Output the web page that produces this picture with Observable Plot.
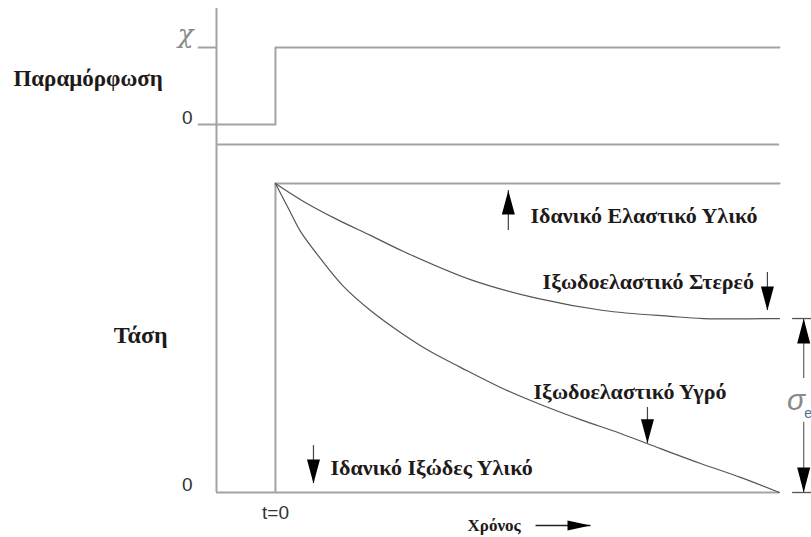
<!DOCTYPE html>
<html><head><meta charset="utf-8">
<script src="https://cdn.jsdelivr.net/npm/d3@7"></script>
<script src="https://cdn.jsdelivr.net/npm/@observablehq/plot@0.6"></script>
<style>body{margin:0;background:#fff;} #chart svg{display:block;background:#fff;}</style>
</head><body><div id="chart"></div>
<script>
// ---- data (time t in arbitrary units, strain / stress normalised) ----
const tAxis = -1.17, tEnd = 10;
const strainT = [tAxis, 0, 0, tEnd];
const strainV = [0, 0, 1, 1];
const strainTicks = [0, 1];
const strainTickLabels = ["0", "χ"];

const elasticT = [0, 10];
const elasticS = [1, 1];

const solidT = [0, 0.556, 1.230, 1.885, 2.540, 3.869, 5.198, 6.508, 7.837, 8.492, 10];
const solidS = [1, 0.942, 0.883, 0.832, 0.780, 0.689, 0.628, 0.589, 0.570, 0.563, 0.563];

const fluidT = [0, 0.258, 0.496, 0.893, 1.349, 1.885, 2.480, 3.075, 3.671, 4.464, 5.258, 6.052, 6.845, 7.639, 8.433, 9.226, 10];
const fluidS = [1, 0.919, 0.845, 0.757, 0.667, 0.589, 0.518, 0.456, 0.405, 0.340, 0.285, 0.236, 0.191, 0.142, 0.094, 0.049, 0];

const sigmaE = 0.563;

const labelNames = ["Ιδανικό Ελαστικό Υλικό", "Ιξωδοελαστικό Στερεό", "Ιξωδοελαστικό Υγρό", "Ιδανικό Ιξώδες Υλικό"];
const labelT = [5.06, 5.30, 5.12, 1.09];
const labelS = [0.896, 0.680, 0.324, 0.078];

const arrowT    = [4.62, 9.76, 7.38, 0.754];
const arrowFrom = [0.848, 0.712, 0.275, 0.152];
const arrowTo   = [0.977, 0.589, 0.159, 0.029];

const bracketT = 10.48;
const bracketFrom = [0.369, 0.227];
const bracketTo = [sigmaE, 0];

// ---- tables built from the arrays ----
const strain = strainT.map((t, i) => ({t, v: strainV[i]}));
const elastic = elasticT.map((t, i) => ({t, s: elasticS[i]}));
const solid = solidT.map((t, i) => ({t, s: solidS[i]}));
const fluid = fluidT.map((t, i) => ({t, s: fluidS[i]}));
const labels = labelNames.map((name, i) => ({name, t: labelT[i], s: labelS[i]}));
const arrows = arrowT.map((t, i) => ({t, from: arrowFrom[i], to: arrowTo[i]}));
const bracket = bracketFrom.map((f, i) => ({t: bracketT, from: f, to: bracketTo[i]}));
const strainTickRows = strainTicks.map((v, i) => ({v, label: strainTickLabels[i]}));

const gray = "#a3a3a3";
const curveColor = "#555";
const serif = "Liberation Serif, Times New Roman, serif";
const sans = "Liberation Sans, Arial, sans-serif";
const head = (w) => ({draw(c, l) { c.moveTo(0, -l); c.lineTo(-w / 2, 0); c.lineTo(w / 2, 0); c.closePath(); }});
const dir = d => d.to > d.from ? 0 : 180;

const W = 811;
const xOpt = {domain: [tAxis, tEnd], axis: null};

const strainChart = Plot.plot({
  width: W, height: 150, marginLeft: 216, marginRight: 32, marginTop: 47, marginBottom: 26,
  x: xOpt, y: {domain: [0, 1], axis: null},
  marks: [
    Plot.ruleX([tAxis], {y1: -0.34, y2: 1.506, stroke: gray, strokeWidth: 2}),
    Plot.ruleY(strainTicks, {x1: tAxis - 0.36, x2: tAxis, stroke: gray, strokeWidth: 2}),
    Plot.ruleY([-0.26], {x1: tAxis, x2: tEnd, stroke: gray, strokeWidth: 2}),
    Plot.line(strain, {x: "t", y: "v", stroke: gray, strokeWidth: 2}),
    Plot.text(strainTickRows.filter(d => d.v === 0), {x: tAxis, y: "v", text: "label", dx: -24, dy: -7, textAnchor: "end",
      fontFamily: sans, fontSize: 19, fill: "#333"}),
    Plot.text(strainTickRows.filter(d => d.v === 1), {x: tAxis, y: "v", text: "label", dx: -23, dy: -13, textAnchor: "end",
      fontFamily: "DejaVu Serif, serif", fontStyle: "italic", fontSize: 26, fill: "#8a8a8a"}),
    Plot.text(["Παραμόρφωση"], {x: -5.2, y: 0.6, text: d => d, textAnchor: "start",
      fontFamily: serif, fontWeight: "bold", fontSize: 23, fill: "#1e1a1a"})
  ]
});

const stressChart = Plot.plot({
  width: W, height: 387, marginLeft: 216, marginRight: 32, marginTop: 33, marginBottom: 45,
  x: xOpt, y: {domain: [0, 1], axis: null},
  marks: [
    Plot.ruleX([tAxis], {y1: 0, y2: 1.107, stroke: gray, strokeWidth: 2}),
    Plot.ruleY([0], {x1: tAxis, x2: tEnd, stroke: gray, strokeWidth: 2}),
    Plot.ruleX([0], {y1: 0, y2: 1, stroke: gray, strokeWidth: 2}),
    Plot.line(elastic, {x: "t", y: "s", stroke: gray, strokeWidth: 2.2}),
    Plot.line(solid, {x: "t", y: "s", stroke: curveColor, strokeWidth: 1.2, curve: "catmull-rom"}),
    Plot.line(fluid, {x: "t", y: "s", stroke: curveColor, strokeWidth: 1.2, curve: "catmull-rom"}),
    // annotation arrows
    Plot.ruleX(arrows, {x: "t", y1: "from", y2: "to", stroke: "#444", strokeWidth: 1.2}),
    Plot.vector(arrows, {x: "t", y: "to", rotate: dir, length: 24, anchor: "end", shape: head(13), fill: "#000", stroke: "none"}),
    // sigma_e bracket
    Plot.ruleY(bracketTo, {x1: 10.26, x2: 10.65, stroke: "#555", strokeWidth: 1.3}),
    Plot.ruleX(bracket, {x: "t", y1: "from", y2: "to", stroke: "#666", strokeWidth: 1.2}),
    Plot.vector(bracket, {x: "t", y: "to", rotate: dir, length: 25, anchor: "end", shape: head(13), fill: "#000", stroke: "none"}),
    Plot.text(["σ"], {x: 10.33, y: 0.298, text: d => d, fontFamily: sans, fontStyle: "italic", fontSize: 30, fill: "#8a8a8a"}),
    Plot.text(["e"], {x: 10.57, y: 0.255, text: d => d, fontFamily: sans, fontSize: 14, fill: "#4a6fa0"}),
    // labels
    Plot.text(labels, {x: "t", y: "s", text: "name", textAnchor: "start",
      fontFamily: serif, fontWeight: "bold", fontSize: 22, fill: "#1e1a1a"}),
    Plot.text(["Τάση"], {x: -3.21, y: 0.508, text: d => d, textAnchor: "start",
      fontFamily: serif, fontWeight: "bold", fontSize: 24, fill: "#1e1a1a"}),
    Plot.text(["0"], {x: tAxis, y: 0, text: d => d, dx: -24, dy: -8, textAnchor: "end", fontFamily: sans, fontSize: 19, fill: "#333"}),
    Plot.text(["t=0"], {x: 0, y: 0, text: d => d, dy: 20, fontFamily: sans, fontSize: 19, fill: "#333"}),
    // time arrow
    Plot.text(["Χρόνος"], {x: 3.81, y: 0, text: d => d, dy: 33, textAnchor: "start",
      fontFamily: serif, fontWeight: "bold", fontSize: 17, fill: "#1e1a1a"}),
    Plot.link([{t1: 5.16, t2: 6.25}], {x1: "t1", x2: "t2", y1: 0, y2: 0, dy: 33, stroke: "#222", strokeWidth: 1.5}),
    Plot.vector([{t: 6.25}], {x: "t", y: 0, dy: 33, rotate: 90, length: 23, anchor: "end", shape: head(10), fill: "#000", stroke: "none"})
  ]
});

document.getElementById("chart").append(strainChart, stressChart);
</script>
</body></html>
